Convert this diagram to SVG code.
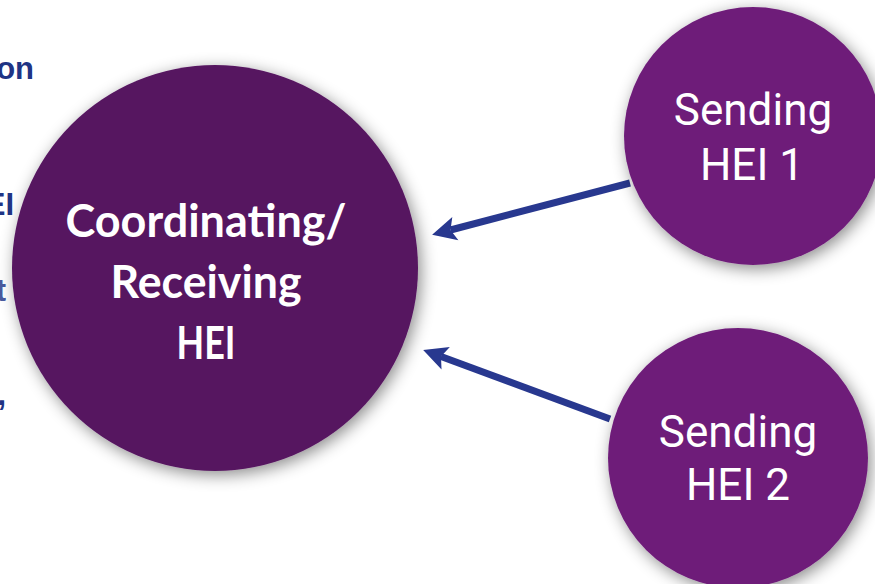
<svg xmlns="http://www.w3.org/2000/svg" width="875" height="584" viewBox="0 0 875 584">
<defs>
<filter id="sh" x="-20%" y="-20%" width="140%" height="140%">
<feDropShadow dx="3" dy="4" stdDeviation="8" flood-color="#000" flood-opacity="0.45"/>
</filter>
<marker id="ah" markerUnits="userSpaceOnUse" viewBox="-8 -14 30 28" markerWidth="30" markerHeight="28" refX="0" refY="0" orient="auto">
<path d="M19,0 L-5,-12 L0,0 L-5,12 Z" fill="#28388f"/>
</marker>
</defs>
<style>
.frag{font-family:"Liberation Sans",Arial,sans-serif;font-weight:bold;fill:#1f3485;font-size:31px}
.main{fill:#561760}
.send{fill:#6e1c79}
.mt{font-family:Lato,"Open Sans",sans-serif;font-size:46px;font-weight:bold;fill:#fff;text-anchor:middle}
.st{font-family:Roboto,"Noto Sans",sans-serif;font-size:44px;fill:#fff;text-anchor:middle}
.conn{stroke:#28388f;stroke-width:7;fill:none}
</style>
<rect width="875" height="584" fill="#fff"/>
<g id="fragments">
<text class="frag" x="34" y="79" text-anchor="end">on</text>
<text class="frag" x="14" y="215" text-anchor="end">EI</text>
<text class="frag" x="6" y="301" text-anchor="end" style="fill:#4a5a9e">t</text>
<text class="frag" x="6" y="405" text-anchor="end">,</text>
</g>
<g id="connectors">
<line class="conn" x1="630" y1="183" x2="450.5" y2="230" marker-end="url(#ah)"/>
<line class="conn" x1="610" y1="419" x2="441" y2="356.5" marker-end="url(#ah)"/>
</g>
<g id="coordinating">
<circle class="main" cx="215" cy="268" r="203" filter="url(#sh)"/>
<text class="mt" x="206" y="237" textLength="281" lengthAdjust="spacingAndGlyphs">Coordinating/</text>
<text class="mt" x="206" y="298" textLength="191" lengthAdjust="spacingAndGlyphs">Receiving</text>
<text class="mt" x="206" y="359" textLength="59" lengthAdjust="spacingAndGlyphs">HEI</text>
</g>
<g id="sending1">
<circle class="send" cx="753" cy="136" r="129" filter="url(#sh)"/>
<text class="st" x="753" y="125">Sending</text>
<text class="st" x="752" y="180">HEI 1</text>
</g>
<g id="sending2">
<circle class="send" cx="738" cy="458" r="130" filter="url(#sh)"/>
<text class="st" x="738" y="447">Sending</text>
<text class="st" x="738" y="500">HEI 2</text>
</g>
</svg>
